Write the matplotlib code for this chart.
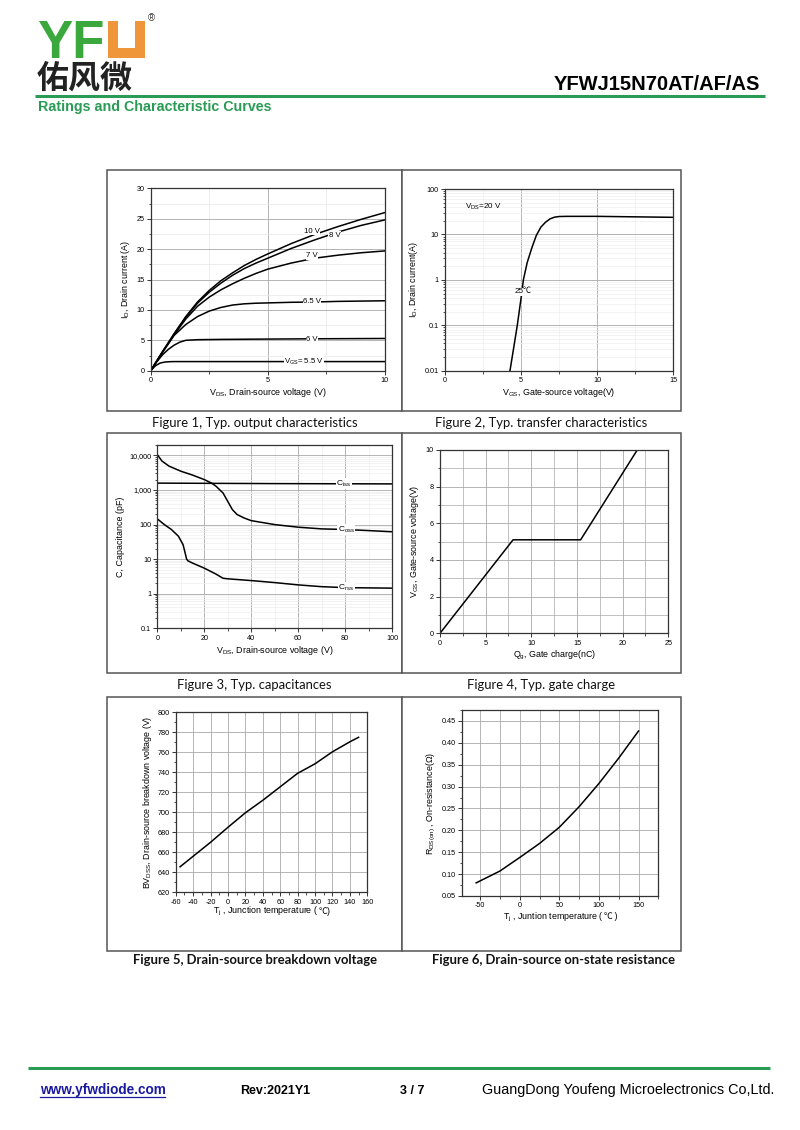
import matplotlib
matplotlib.use('Agg')
import matplotlib.pyplot as plt
from matplotlib.patches import Rectangle
from matplotlib.ticker import MultipleLocator, FixedLocator, FuncFormatter, LogLocator, NullFormatter
from matplotlib.offsetbox import TextArea, HPacker, AnchoredOffsetbox

plt.rcParams['font.family'] = ['Liberation Sans', 'DejaVu Sans']
plt.rcParams['mathtext.fontset'] = 'custom'
plt.rcParams['mathtext.rm'] = 'Liberation Sans'
plt.rcParams['mathtext.it'] = 'Liberation Sans:italic'
plt.rcParams['mathtext.bf'] = 'Liberation Sans:bold'
plt.rcParams['axes.unicode_minus'] = False

# ---------------- data ----------------
# Figure 1: output characteristics
vds_hi = [0, 0.5, 1.0, 1.5, 2.0, 2.5, 3.0, 3.5, 4.0, 4.5, 5.0, 6.0, 7.0, 8.0, 9.0, 10.0]
id_10v = [0, 3.1, 6.1, 8.9, 11.3, 13.2, 14.8, 16.1, 17.3, 18.3, 19.2, 20.9, 22.4, 23.7, 24.9, 26.0]
id_8v = [0, 3.1, 6.0, 8.8, 11.1, 12.9, 14.4, 15.7, 16.8, 17.7, 18.5, 20.1, 21.5, 22.8, 23.9, 24.8]
id_7v = [0, 3.0, 5.9, 8.5, 10.6, 12.1, 13.3, 14.3, 15.2, 16.0, 16.7, 17.7, 18.5, 19.0, 19.4, 19.7]
id_65v = [0, 3.0, 5.8, 7.6, 8.9, 9.8, 10.4, 10.8, 11.0, 11.1, 11.15, 11.25, 11.3, 11.4, 11.45, 11.5]
vds_6v = [0, 0.25, 0.5, 0.75, 1.0, 1.25, 1.5, 2.0, 3.0, 5.0, 7.0, 10.0]
id_6v = [0, 1.4, 2.6, 3.5, 4.2, 4.7, 5.0, 5.1, 5.15, 5.2, 5.25, 5.3]
vds_55v = [0, 0.2, 0.4, 0.6, 0.8, 1.0, 2.0, 5.0, 10.0]
id_55v = [0, 0.8, 1.25, 1.42, 1.48, 1.5, 1.5, 1.5, 1.5]

# Figure 2: transfer characteristics
vgs_tr = [4.27, 4.5, 4.75, 5.0, 5.15, 5.4, 5.7, 6.0, 6.3, 6.6, 6.9, 7.2, 7.5, 8.0, 10.0, 12.0, 15.0]
id_tr = [0.01, 0.03, 0.1, 0.4, 1.0, 2.4, 5.0, 9.5, 14.5, 18.5, 22.0, 24.0, 24.8, 25.0, 25.0, 24.5, 23.8]

# Figure 3: capacitances
vds_iss = [0, 50, 100]
c_iss = [1580, 1530, 1500]
vds_oss = [0, 2, 5, 10, 15, 20, 23, 25, 28, 30, 32, 34, 37, 40, 50, 60, 70, 80, 90, 100]
c_oss = [10500, 6850, 4900, 3500, 2700, 2000, 1600, 1290, 820, 470, 270, 195, 155, 130, 100, 84, 75, 72, 67, 62]
vds_rss = [0, 3, 6, 9, 11, 12.5, 13, 15, 20, 25, 28, 30, 40, 50, 60, 70, 80, 100]
c_rss = [146, 100, 72, 46, 26, 10, 9, 7.7, 5.5, 3.7, 2.8, 2.7, 2.4, 2.1, 1.8, 1.6, 1.5, 1.45]

# Figure 4: gate charge
qg = [0, 8.0, 15.4, 21.6]
vgs_q = [0, 5.1, 5.1, 10.0]

# Figure 5: breakdown voltage
tj_bv = [-55, -40, -20, 0, 20, 40, 60, 80, 100, 120, 140, 150]
bv_dss = [645.5, 656, 670, 685, 699.5, 712, 725.5, 739, 748.5, 760.5, 770.5, 775]

# Figure 6: on resistance
tj_r = [-55, -25, 0, 25, 50, 75, 100, 125, 150]
rds_on = [0.080, 0.107, 0.138, 0.170, 0.207, 0.254, 0.307, 0.365, 0.427]

captions = ["Figure 1, Typ. output characteristics", "Figure 2, Typ. transfer characteristics",
            "Figure 3, Typ. capacitances", "Figure 4, Typ. gate charge",
            "Figure 5, Drain-source breakdown voltage", "Figure 6, Drain-source on-state resistance"]

# ---------------- layout ----------------
W, H = 800, 1130
fig = plt.figure(figsize=(8, 11.3), dpi=100)
bg = fig.add_axes([0, 0, 1, 1])
bg.set_xlim(0, W)
bg.set_ylim(H, 0)
bg.axis('off')

GREEN = '#2a9b55'
LOGO_GREEN = '#3aa83c'
ORANGE = '#f0963a'


def px_axes(l, t, r, b):
    return fig.add_axes([l / W, 1 - b / H, (r - l) / W, (b - t) / H])


def style(ax, minor_grid=True, minor_color='#e6e6e6'):
    for s in ax.spines.values():
        s.set_color('#333333')
        s.set_linewidth(0.9)
    ax.tick_params(which='both', direction='out', labelsize=5.2, color='#333333', pad=1.5)
    ax.tick_params(which='major', length=3, width=0.7)
    ax.tick_params(which='minor', length=1.8, width=0.6)
    ax.grid(which='major', color='#a8a8a8', lw=0.6)
    if minor_grid:
        ax.grid(which='minor', color=minor_color, lw=0.5)
    ax.set_axisbelow(True)


LBL = 6.4
LW = 1.1
box = dict(facecolor='white', edgecolor='none', pad=0.3)


def celsius_xlabel(ax, pre, post, y_axes):
    parts = [TextArea(pre, textprops=dict(fontsize=LBL)),
             TextArea('℃', textprops=dict(fontsize=LBL, family=['Noto Sans CJK SC'])),
             TextArea(post, textprops=dict(fontsize=LBL))]
    pack = HPacker(children=parts, align='baseline', pad=0, sep=0)
    ab = AnchoredOffsetbox(loc='upper center', child=pack, pad=0, borderpad=0, frameon=False,
                           bbox_to_anchor=(0.5, y_axes), bbox_transform=ax.transAxes)
    ax.add_artist(ab)


# ---- header ----
bg.text(37, 58, 'YF', color=LOGO_GREEN, fontsize=38, fontweight='bold', va='baseline', ha='left')
bg.add_patch(Rectangle((108, 21), 37, 37, facecolor=ORANGE, edgecolor='none'))
bg.add_patch(Rectangle((118, 21), 17, 27, facecolor='white', edgecolor='none'))
bg.text(148, 18, '®', fontsize=7, va='center', ha='left', color='#333333')
bg.text(37, 79, '佑风微', fontsize=23, family=['Noto Sans CJK SC'], fontweight='bold',
        va='center', ha='left', color='#222222')
bg.text(760, 90, 'YFWJ15N70AT/AF/AS', ha='right', va='baseline', fontsize=14.5, fontweight='bold')
bg.plot([35, 765], [96, 96], color=GREEN, lw=2.2, solid_capstyle='butt')
bg.text(38, 107, 'Ratings and Characteristic Curves', color=GREEN, fontsize=10.3,
        fontweight='bold', va='center', ha='left')

# ---- footer ----
bg.plot([28, 770], [1068, 1068], color=GREEN, lw=2.2, solid_capstyle='butt')
bg.text(40, 1094, 'www.yfwdiode.com', color='#1a1aa0', fontsize=9.8, fontweight='bold', va='baseline')
bg.plot([40, 165], [1096.5, 1096.5], color='#1a1aa0', lw=0.9)
bg.text(240, 1094, 'Rev:2021Y1', fontsize=9, fontweight='bold', va='baseline')
bg.text(400, 1094, '3 / 7', fontsize=9, fontweight='bold', va='baseline')
bg.text(482, 1094, 'GuangDong Youfeng Microelectronics Co,Ltd.', fontsize=10.4, va='baseline')

# ---- panel boxes and captions ----
rows = [(170, 411, 423), (433, 673, 685), (697, 951, 960)]
cols = [(107, 402), (402, 681)]
cap_x = [[254.5, 541.5], [254.5, 541.5], [255, 553]]
for r, (t, b, cy) in enumerate(rows):
    for c, (l, rr) in enumerate(cols):
        bg.add_patch(Rectangle((l, t), rr - l, b - t, facecolor='white', edgecolor='#555555', lw=1.1))
        bg.text(cap_x[r][c], cy, captions[2 * r + c], ha='center', va='center',
                family=['Lato', 'DejaVu Sans'], fontsize=9.4,
                fontweight='bold' if r == 2 else 'normal', color='#111111')

# ---- Figure 1 ----
ax1 = px_axes(150.7, 188.3, 384.7, 370.7)
for x, y in [(vds_hi, id_10v), (vds_hi, id_8v), (vds_hi, id_7v), (vds_hi, id_65v),
             (vds_6v, id_6v), (vds_55v, id_55v)]:
    ax1.plot(x, y, color='black', lw=LW)
ax1.set_xlim(0, 10)
ax1.set_ylim(0, 30)
ax1.xaxis.set_major_locator(MultipleLocator(5))
ax1.xaxis.set_minor_locator(MultipleLocator(2.5))
ax1.yaxis.set_major_locator(MultipleLocator(5))
ax1.yaxis.set_minor_locator(MultipleLocator(2.5))
style(ax1)
ax1.text(6.9, 22.9, '10 V', fontsize=5.6, ha='center', va='center', bbox=box)
ax1.text(7.85, 22.3, '8 V', fontsize=5.6, ha='center', va='center', bbox=box)
ax1.text(6.9, 18.9, '7 V', fontsize=5.6, ha='center', va='center', bbox=box)
ax1.text(6.9, 11.35, '6.5 V', fontsize=5.6, ha='center', va='center', bbox=box)
ax1.text(6.9, 5.2, '6 V', fontsize=5.6, ha='center', va='center', bbox=box)
ax1.text(6.55, 1.5, r'V$_{\mathrm{GS}}$= 5.5 V', fontsize=5.6, ha='center', va='center', bbox=box)
ax1.set_xlabel(r'V$_{\mathrm{DS}}$, Drain-source voltage (V)', fontsize=LBL, labelpad=1.5)
ax1.set_ylabel(r'I$_{\mathrm{D}}$, Drain current (A)', fontsize=LBL, labelpad=3)

# ---- Figure 2 ----
ax2 = px_axes(445, 189, 673.3, 370.7)
ax2.semilogy(vgs_tr, id_tr, color='black', lw=LW)
ax2.set_xlim(0, 15)
ax2.set_ylim(0.01, 100)
ax2.xaxis.set_major_locator(MultipleLocator(5))
ax2.xaxis.set_minor_locator(MultipleLocator(2.5))
ax2.yaxis.set_major_locator(FixedLocator([0.01, 0.1, 1, 10, 100]))
ax2.yaxis.set_major_formatter(FuncFormatter(lambda v, p: f'{v:g}'))
ax2.yaxis.set_minor_locator(LogLocator(base=10, subs=range(2, 10)))
ax2.yaxis.set_minor_formatter(NullFormatter())
style(ax2, minor_color='#eeeeee')
ax2.text(5.1, 0.55, '25℃', fontsize=5.8, ha='center', va='center', bbox=box,
         family=['Liberation Sans', 'Noto Sans CJK SC'])
ax2.text(1.3, 41, r'V$_{\mathrm{DS}}$=20 V', fontsize=5.8, ha='left', va='center')
ax2.set_xlabel(r'V$_{\mathrm{GS}}$, Gate-source voltage(V)', fontsize=LBL, labelpad=1.5)
ax2.set_ylabel(r'I$_{\mathrm{D}}$, Drain current(A)', fontsize=LBL, labelpad=3)

# ---- Figure 3 ----
ax3 = px_axes(157.3, 445, 392, 628.3)
ax3.semilogy(vds_iss, c_iss, color='black', lw=LW)
ax3.semilogy(vds_oss, c_oss, color='black', lw=LW)
ax3.semilogy(vds_rss, c_rss, color='black', lw=LW)
ax3.set_xlim(0, 100)
ax3.set_ylim(0.1, 20000)
ax3.xaxis.set_major_locator(MultipleLocator(20))
ax3.xaxis.set_minor_locator(MultipleLocator(10))
ax3.yaxis.set_major_locator(FixedLocator([0.1, 1, 10, 100, 1000, 10000]))
ax3.yaxis.set_major_formatter(FuncFormatter(lambda v, p: f'{int(round(v)):,}' if v >= 1 else f'{v:g}'))
ax3.yaxis.set_minor_locator(LogLocator(base=10, subs=range(2, 10)))
ax3.yaxis.set_minor_formatter(NullFormatter())
style(ax3, minor_color='#eeeeee')
ax3.text(79.5, 1520, r'C$_{\mathrm{iss}}$', fontsize=6, ha='center', va='center', bbox=box)
ax3.text(80.5, 70, r'C$_{\mathrm{oss}}$', fontsize=6, ha='center', va='center', bbox=box)
ax3.text(80.5, 1.5, r'C$_{\mathrm{rss}}$', fontsize=6, ha='center', va='center', bbox=box)
ax3.set_xlabel(r'V$_{\mathrm{DS}}$, Drain-source voltage (V)', fontsize=LBL, labelpad=1.5)
ax3.set_ylabel('C, Capacitance (pF)', fontsize=LBL, labelpad=3)

# ---- Figure 4 ----
ax4 = px_axes(440, 450, 668.3, 633.3)
ax4.plot(qg, vgs_q, color='black', lw=LW)
ax4.set_xlim(0, 25)
ax4.set_ylim(0, 10)
ax4.xaxis.set_major_locator(MultipleLocator(5))
ax4.xaxis.set_minor_locator(MultipleLocator(2.5))
ax4.yaxis.set_major_locator(MultipleLocator(2))
ax4.yaxis.set_minor_locator(MultipleLocator(1))
style(ax4, minor_color='#a8a8a8')
ax4.set_xlabel(r'Q$_{\mathrm{g}}$, Gate charge(nC)', fontsize=LBL, labelpad=1.5)
ax4.set_ylabel(r'V$_{\mathrm{GS}}$, Gate-source voltage(V)', fontsize=LBL, labelpad=3)

# ---- Figure 5 ----
ax5 = px_axes(175.7, 712.3, 367.3, 892.3)
ax5.plot(tj_bv, bv_dss, color='black', lw=LW)
ax5.set_xlim(-60, 160)
ax5.set_ylim(620, 800)
ax5.xaxis.set_major_locator(MultipleLocator(20))
ax5.xaxis.set_minor_locator(MultipleLocator(10))
ax5.yaxis.set_major_locator(MultipleLocator(20))
ax5.yaxis.set_minor_locator(MultipleLocator(10))
style(ax5, minor_grid=False)
celsius_xlabel(ax5, r'T$_{\mathrm{j}}$ , Junction temperature (', ')', -0.072)
ax5.set_ylabel(r'BV$_{\mathrm{DSS}}$, Drain-source breakdown voltage (V)', fontsize=LBL, labelpad=2)

# ---- Figure 6 ----
ax6 = px_axes(462.3, 710, 658.3, 896)
ax6.plot(tj_r, rds_on, color='black', lw=LW)
ax6.set_xlim(-72.5, 175)
ax6.set_ylim(0.05, 0.475)
ax6.xaxis.set_major_locator(MultipleLocator(50))
ax6.xaxis.set_minor_locator(MultipleLocator(25))
ax6.yaxis.set_major_locator(MultipleLocator(0.05))
ax6.yaxis.set_minor_locator(MultipleLocator(0.025))
ax6.yaxis.set_major_formatter(FuncFormatter(lambda v, p: f'{v:.2f}'))
style(ax6, minor_grid=False)
ax6.grid(which='minor', axis='x', color='#a8a8a8', lw=0.6)
celsius_xlabel(ax6, r'T$_{\mathrm{j}}$ , Juntion temperature (', ' )', -0.08)
ax6.set_ylabel(r'R$_{\mathrm{DS(on)}}$ , On-resistance(Ω)', fontsize=LBL, labelpad=3)

fig.savefig('out.png', dpi=100)
